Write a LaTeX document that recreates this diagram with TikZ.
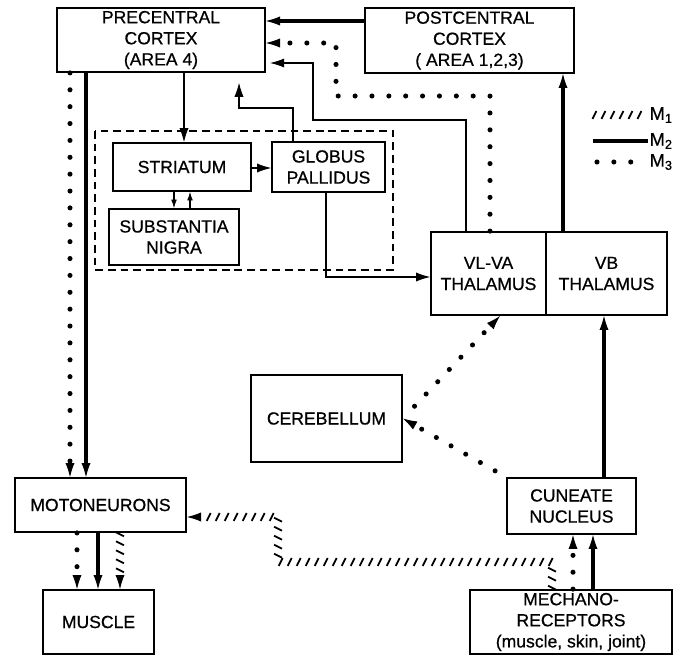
\documentclass[tikz,border=0pt]{standalone}
\usepackage{fontspec}
\setmainfont{Liberation Sans}
\newfontfamily\lettering{Liberation Sans}[FakeBold=0.7]
\usetikzlibrary{arrows.meta,decorations.markings}
\tikzset{
  box/.style={draw,line width=1.3pt,align=center,inner sep=1pt,
    font=\lettering\fontsize{12.5}{15}\selectfont},
  keylabel/.style={anchor=west,inner sep=1pt,font=\lettering\fontsize{13}{15}\selectfont},
  tip/.style={-{Latex[length=10pt,width=6.5pt,line width=0.6pt]}},
  small tip/.style={-{Latex[length=6pt,width=4pt,line width=0.5pt]}},
  wire/.style={line width=0.9pt,tip},
  mtwo/.style={line width=2.6pt,tip},
  mthree/.style={line width=3.6pt,line cap=round,dash pattern=on 0pt off 12pt,tip},
  hatch/.style={postaction={decorate,decoration={markings,
    mark=between positions 1pt and #1 step 6.4pt with
    {\draw[solid,-,line cap=butt,line width=1.3pt] (-1.4pt,-2.8pt) -- (1.4pt,2.8pt);}}}},
  hatch/.default=-1pt,
  mone/.style={hatch=-11pt,line width=1.3pt,dash pattern=on 0pt off 2000pt,tip}
}
\begin{document}
\begin{tikzpicture}[x=0.025cm,y=-0.025cm]
\useasboundingbox (0,0) rectangle (683,656);
% boxes
\node[box,minimum width=5.2cm,minimum height=1.6cm] (precentral) at (161,40)
  {PRECENTRAL\\CORTEX\\(AREA 4)};
\node[box,minimum width=5.225cm,minimum height=1.625cm] (postcentral) at (469.5,40.5)
  {POSTCENTRAL\\CORTEX\\( AREA 1,2,3)};
\node[box,minimum width=3.45cm,minimum height=1.2cm] (striatum) at (182,167) {STRIATUM};
\node[box,minimum width=2.825cm,minimum height=1.25cm] (globus) at (328.5,167) {GLOBUS\\PALLIDUS};
\node[box,minimum width=3.25cm,minimum height=1.4cm] (nigra) at (174,237) {SUBSTANTIA\\NIGRA};
\node[box,minimum width=2.875cm,minimum height=2.075cm] (vlva) at (488.5,273.5) {VL-VA\\THALAMUS};
\node[box,minimum width=3.025cm,minimum height=2.075cm] (vb) at (606.5,273.5) {VB\\THALAMUS};
\node[box,minimum width=3.775cm,minimum height=2.175cm] (cerebellum) at (326.5,418.5) {CEREBELLUM};
\node[box,minimum width=4.275cm,minimum height=1.35cm] (motoneurons) at (100.5,505) {MOTONEURONS};
\node[box,minimum width=2.775cm,minimum height=1.6cm] (muscle) at (98.5,622) {MUSCLE};
\node[box,minimum width=3.225cm,minimum height=1.4cm] (cuneate) at (571.5,506) {CUNEATE\\NUCLEUS};
\node[box,minimum width=5.05cm,minimum height=1.6cm] (mechano) at (571,622)
  {MECHANO-\\RECEPTORS\\(muscle, skin, joint)};
\draw[line width=1.1pt,dash pattern=on 5.5pt off 3.5pt] (95,131) rectangle (393,270);
% legend
\coordinate (k1) at (593,115);
\coordinate (k2) at (593,141);
\coordinate (k3) at (597,162);
\node[keylabel] (leg1) at (648,115) {M\textsubscript{1}};
\node[keylabel] (leg2) at (648,141) {M\textsubscript{2}};
\node[keylabel] (leg3) at (648,162) {M\textsubscript{3}};
\path[hatch] (k1) -- (leg1.west);
\draw[mtwo,-] (k2) -- (leg2.west);
\draw[mthree,-,shorten >=6pt] (k3) -- (leg3.west);
% cortex
\draw[mtwo] (postcentral.west |- 0,21) -- (precentral.east |- 0,21);
\draw[mthree] (vlva.north -| 490,0) |- (336,96) |- (precentral.east |- 0,43);
\draw[wire,shorten >=3pt] (vlva.north -| 466,0) |- (313,120) |- (precentral.east |- 0,63);
\draw[mtwo] (vb.north -| 563,0) -- (postcentral.south -| 563,0);
% basal ganglia
\draw[wire] (precentral.south -| 184,0) -- (striatum.north -| 184,0);
\draw[wire,shorten >=7pt] (globus.north -| 293,0) |- (239,108) -- (precentral.south -| 239,0);
\draw[wire] (striatum.east |- 0,168) -- (globus.west |- 0,168);
\draw[wire,small tip] (striatum.south -| 174,0) -- (nigra.north -| 174,0);
\draw[wire,small tip] (nigra.north -| 190,0) -- (striatum.south -| 190,0);
\draw[wire] (globus.south -| 326,0) |- (vlva.west |- 0,277);
% descending
\draw[mthree] (precentral.south -| 70,0) -- (motoneurons.north -| 70,0);
\draw[mtwo] (precentral.south -| 86,0) -- (motoneurons.north -| 86,0);
\draw[mthree] (motoneurons.south -| 77,0) -- (muscle.north -| 77,0);
\draw[mtwo] (motoneurons.south -| 98,0) -- (muscle.north -| 98,0);
\draw[mone] (motoneurons.south -| 120,0) -- (muscle.north -| 120,0);
% ascending
\draw[mthree,shorten <=12pt] (cerebellum.east) -- (vlva.south -| 500,0);
\draw[mthree,shorten <=9pt] (cuneate.north west) -- (cerebellum.east);
\draw[mtwo] (cuneate.north -| 604,0) -- (vb.south -| 604,0);
\draw[mthree] (mechano.north -| 573,0) -- (cuneate.south -| 573,0);
\draw[mtwo] (mechano.north -| 593,0) -- (cuneate.south -| 593,0);
\draw[mone] (mechano.north -| 552,0) |- (278,562) |- (motoneurons.east |- 0,517);
\end{tikzpicture}
\end{document}
